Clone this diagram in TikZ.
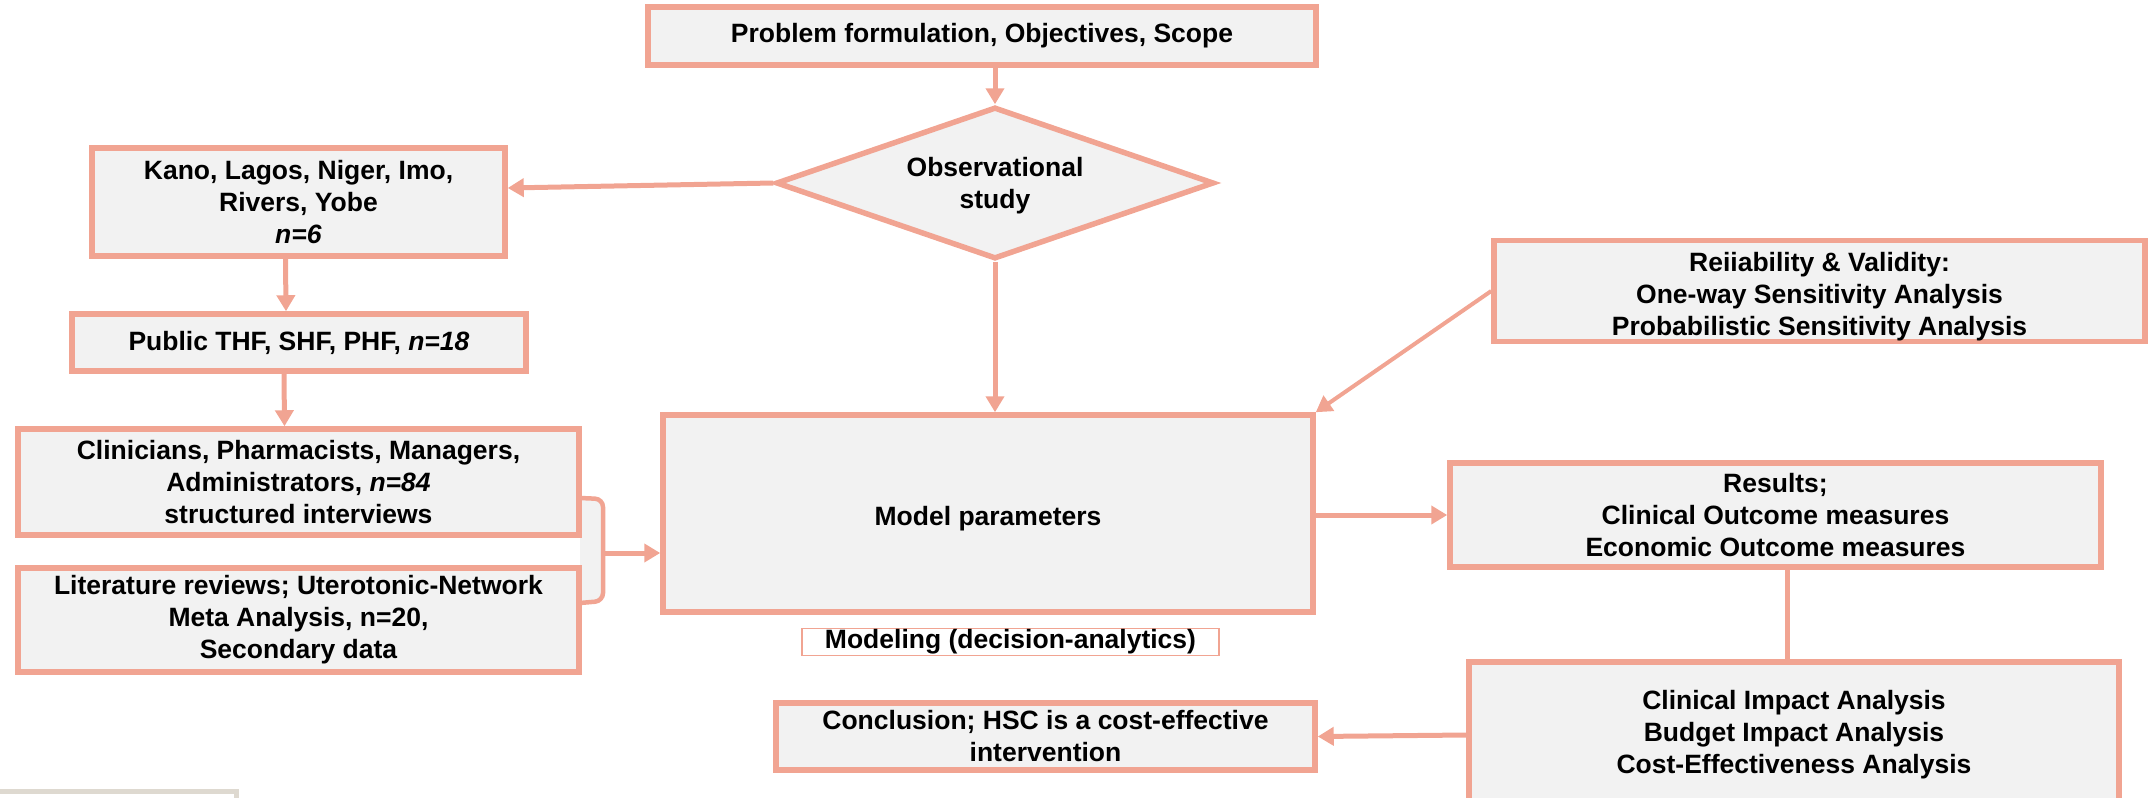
\documentclass[tikz,border=0pt]{standalone}
\usepackage{fontspec}
\setmainfont{Liberation Sans}
\usetikzlibrary{shapes.geometric,arrows.meta}
\definecolor{salmon}{RGB}{241,164,146}
\definecolor{boxgrey}{RGB}{242,242,242}
\definecolor{edgegrey}{RGB}{222,217,208}
\tikzset{every picture/.style={line width=0.75pt}}
\tikzset{
  stage/.style={draw=salmon, fill=boxgrey, line width=2.75pt, inner sep=0pt, align=center, font=\fontsize{13.25}{16}\selectfont\bfseries},
  decide/.style={stage, diamond, aspect=2.83},
  flow/.style={draw=salmon, line width=2.5pt, -{Triangle[length=8pt,width=9pt]}},
  link/.style={draw=salmon, line width=2.5pt},
}
% lowers the text of a node a little
\newcommand{\lowerby}[1]{\rule{0pt}{#1}}
\begin{document}
\begin{tikzpicture}[x=0.5pt,y=0.5pt,yscale=-1,xscale=1]
\useasboundingbox (0,0) rectangle (2149,798);
\clip (0,0) rectangle (2149,798);

%Shape: Brace
\draw [draw=salmon, fill=boxgrey, line width=2.25pt, rounded corners=4pt] (580,498) -- (603,499) -- (603,552) -- (603,601) -- (580,603) ;
\coordinate (join) at (603,553);

%Shape: Corner (cut off)
\draw [edgegrey, line width=2.5pt] (-10,791.5) -- (236,791.5) -- (236,810) ;

% Text Node
\node [stage, minimum width=334pt, minimum height=29pt] (problem) at (982,36) {Problem formulation, Objectives, Scope};
% Text Node
\node [decide, minimum width=219pt, minimum height=76pt] (observ) at (995,183) {\lowerby{12.5pt}Observational\\study};
% Text Node
\node [stage, minimum width=206.5pt, minimum height=54pt] (regions) at (298.5,202) {Kano, Lagos, Niger, Imo,\\Rivers, Yobe\\\textit{n=6}};
% Text Node
\node [stage, minimum width=227pt, minimum height=28.5pt] (facilities) at (299,342.5) {Public THF, SHF, PHF, \textit{n=18}};
% Text Node
\node [stage, minimum width=280.5pt, minimum height=53pt] (staff) at (298.5,482) {Clinicians, Pharmacists, Managers,\\Administrators, \textit{n=84}\\structured interviews};
% Text Node
\node [stage, minimum width=280.5pt, minimum height=52pt] (litrev) at (298.5,620) {Literature reviews; Uterotonic-Network\\Meta Analysis, n=20,\\Secondary data};
% Text Node
\node [stage, minimum width=325pt, minimum height=98.5pt] (model) at (988,513.5) {\lowerby{15pt}Model parameters};
% Text Node
\node [draw=salmon, fill=white, line width=0.75pt, minimum width=208.5pt, minimum height=13.5pt, inner xsep=0pt, inner ysep=0.5pt, font=\fontsize{13.25}{16}\selectfont\bfseries] (modeling) at (1010.5,642) {Modeling (decision-analytics)};
% Text Node
\node [stage, minimum width=325.5pt, minimum height=50.5pt] (reliab) at (1819.5,291) {\lowerby{15pt}Reiiability \& Validity:\\One-way Sensitivity Analysis\\Probabilistic Sensitivity Analysis};
% Text Node
\node [stage, minimum width=325.5pt, minimum height=52pt] (results) at (1775.5,515) {Results;\\Clinical Outcome measures\\Economic Outcome measures};
% Text Node
\node [stage, minimum width=325pt, minimum height=73pt] (impact) at (1794,735) {Clinical Impact Analysis\\Budget Impact Analysis\\Cost-Effectiveness Analysis};
% Text Node
\node [stage, minimum width=269.5pt, minimum height=33.5pt] (conclusion) at (1045.5,736.5) {Conclusion; HSC is a cost-effective\\intervention};

%Straight Lines
\draw [flow] (observ.north |- problem.south) -- (observ.north) ;
\draw [flow] (observ.west) -- ([yshift=-7pt]regions.east) ;
\draw [flow] ([xshift=-6.5pt]regions.south) -- ([xshift=-6.5pt]facilities.north) ;
\draw [flow] ([xshift=-7.5pt]facilities.south) -- ([xshift=-7pt]staff.north) ;
\draw [flow] (join) -- (join -| model.west) ;
\draw [flow] (observ.south) -- (observ.south |- model.north) ;
\draw [flow, line width=2pt] (reliab.west) -- (model.north east) ;
\draw [flow] (model.east |- results.west) -- (results.west) ;
\draw [link] ([xshift=-3.5pt]impact.north |- results.south) -- ([xshift=-3.5pt]impact.north) ;
\draw [flow] (impact.west) -- (conclusion.east) ;

\end{tikzpicture}
\end{document}
